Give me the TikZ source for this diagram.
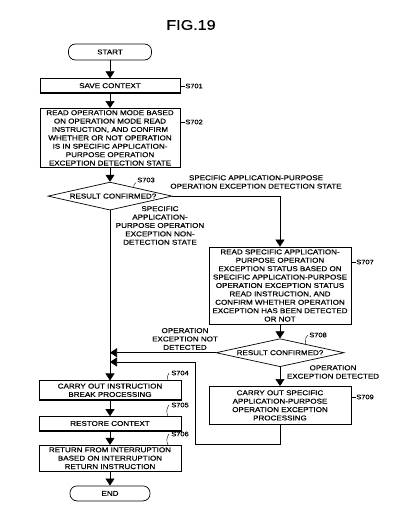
\documentclass[tikz,border=0pt]{standalone}
\usepackage{fontspec}
\setmainfont{Liberation Sans}[FakeStretch=1.15, FakeBold=0.4]
\usetikzlibrary{shapes, arrows.meta, positioning, calc}

\begin{document}
\begin{tikzpicture}[x=1pt, y=1pt, node distance=15pt and 10pt,
		font=\fontsize{7}{8.4}\selectfont, line width=0.6pt,
		>={Triangle[width=9pt,length=7pt]},
		box/.style={draw, line width=0.7pt, align=center, inner xsep=1pt, inner ysep=1.5pt, minimum width=140pt},
		term/.style={draw, line width=0.7pt, rounded corners=7pt, minimum height=16pt},
		decision/.style={draw, diamond, line width=0.7pt, inner sep=0pt, minimum height=28pt},
		note/.style={align=center, inner sep=0pt},
		stepno/.style={font=\fontsize{6.5}{7}\selectfont, inner sep=0pt}]
		\useasboundingbox (0,0) rectangle (400,-524);
		\node[font=\fontsize{14}{16}\selectfont] (title) at (191,-25) {FIG.19};
		% main column
		\node[term, minimum width=83pt] (start) at (110,-52) {START};
		\node[box, minimum height=14pt, below=18pt of start] (s701) {SAVE CONTEXT};
		\node[box, minimum height=59pt, below=of s701] (s702) {READ OPERATION MODE BASED\\ON OPERATION MODE READ\\INSTRUCTION, AND CONFIRM\\WHETHER OR NOT OPERATION\\IS IN SPECIFIC APPLICATION-\\PURPOSE OPERATION\\EXCEPTION DETECTION STATE};
		\node[decision, minimum width=124pt, below=14pt of s702, label={[xshift=3pt]center:RESULT CONFIRMED?}] (s703) {};
		\node[box, minimum width=142pt, minimum height=19pt, below=170pt of s703] (s704) {CARRY OUT INSTRUCTION\\BREAK PROCESSING};
		\node[box, minimum width=142pt, minimum height=14pt, below=16pt of s704] (s705) {RESTORE CONTEXT};
		\node[box, minimum width=142pt, minimum height=26pt, below=14pt of s705] (s706) {RETURN FROM INTERRUPTION\\BASED ON INTERRUPTION\\RETURN INSTRUCTION};
		\node[term, minimum width=80pt, minimum height=15pt, below=14pt of s706] (end) {END};
		% right column
		\node[box, minimum width=142pt, minimum height=77pt] (s707) at (280,-285.5) {READ SPECIFIC APPLICATION-\\PURPOSE OPERATION\\EXCEPTION STATUS BASED ON\\SPECIFIC APPLICATION-PURPOSE\\OPERATION EXCEPTION STATUS\\READ INSTRUCTION, AND\\CONFIRM WHETHER OPERATION\\EXCEPTION HAS BEEN DETECTED\\OR NOT};
		\node[decision, minimum width=128pt, below=14pt of s707, label=center:RESULT CONFIRMED?] (s708) {};
		\node[box, minimum width=142pt, minimum height=38pt, below=19pt of s708] (s709) {CARRY OUT SPECIFIC\\APPLICATION-PURPOSE\\OPERATION EXCEPTION\\PROCESSING};
		% branch texts
		\node[note] (detect) at (256,-182) {SPECIFIC APPLICATION-PURPOSE\\OPERATION EXCEPTION DETECTION STATE};
		\node[note] (nodetect) at (160,-225.5) {SPECIFIC\\APPLICATION-\\PURPOSE OPERATION\\EXCEPTION NON-\\DETECTION STATE};
		\node[note] (notdetected) at (185,-339) {OPERATION\\EXCEPTION NOT\\DETECTED};
		\node[note] (detected) at (333,-372) {OPERATION\\EXCEPTION DETECTED};
		% step numbers
		\node[stepno, anchor=west] (n701) at (185,-86) {S701};
		\node[stepno, anchor=west] (n702) at (185,-122) {S702};
		\node[stepno] (n703) at (146,-180) {S703};
		\node[stepno] (n704) at (180,-373) {S704};
		\node[stepno] (n705) at (180,-405) {S705};
		\node[stepno] (n706) at (180,-434) {S706};
		\node[stepno, anchor=west] (n707) at (356,-262) {S707};
		\node[stepno] (n708) at (318,-335) {S708};
		\node[stepno, anchor=west] (n709) at (356,-397) {S709};
		\coordinate (back) at (195,-444);
		\coordinate (join) at (110,-362);
		% heavy lower and right edges
		\foreach \n in {s701, s702, s704, s705, s706, s707, s709}
			\draw[line width=1.4pt] (\n.south west) -- (\n.south east) -- (\n.north east);
		\foreach \from/\to in {start/s701, s701/s702, s702/s703, s703/s704, s704/s705, s705/s706, s706/end, s707/s708, s708/s709}
			\draw[->] (\from) -- (\to);
		\draw[->] (s703.east) -| (s707);
		\draw[->] (s708.west) -- (s708.west -| s703.south);
		\draw[->] (s709) |- (back) |- (join);
		% leaders to step numbers
		\foreach \n in {701, 702, 707, 709}
			\draw[line width=0.4pt] (n\n.west) -- ++(-4,0);
		\foreach \n in {704, 705, 706}
			\draw[line width=0.4pt] ([xshift=-2pt]n\n.west) to[bend right=30] ([xshift=-3pt]n\n.west |- s\n.north);
		\draw[line width=0.4pt] ([xshift=-1pt]n703.south west) to[bend right=30] ($(s703.north)!0.38!(s703.east)$);
		\draw[line width=0.4pt] ([xshift=-1pt]n708.west) to[bend right=30] ($(s708.north)!0.4!(s708.east)$);
	\end{tikzpicture}
\end{document}
